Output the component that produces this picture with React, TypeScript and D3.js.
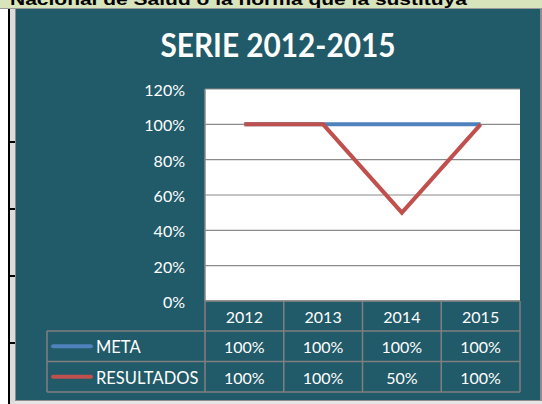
import React from "react";
import * as d3 from "d3";

const years = ["2012", "2013", "2014", "2015"];
const metaValues = [1, 1, 1, 1];
const resultadosValues = [1, 1, 0.5, 1];
const yTicks = [0, 0.2, 0.4, 0.6, 0.8, 1.0, 1.2];
const seriesNames = ["META", "RESULTADOS"];
const seriesColors = ["#4f81bd", "#c0504d"];
const title = "SERIE 2012-2015";
const bannerText = "Nacional de Salud  o la norma que la sustituya";

const W = 542;
const H = 404;
const TEAL = "#215a68";
const FONT = "Lato, 'Open Sans', sans-serif";

export default function App() {
  const plotL = 205, plotR = 520, plotT = 89, plotB = 301;
  const x = d3.scaleBand<string>().domain(years).range([plotL, plotR]);
  const y = d3.scaleLinear().domain([0, 1.2]).range([plotB, plotT]);
  const pct = d3.format(".0%");
  const line = d3
    .line<number>()
    .x((_, i) => (x(years[i]) as number) + x.bandwidth() / 2)
    .y((d) => y(d));

  const series = [metaValues, resultadosValues];
  const rowTops = [301, 331, 361.5, 392];
  const legendL = 47;

  return (
    <svg
      width={W}
      height={H}
      style={{ position: "absolute", left: 0, top: 0, display: "block" }}
    >
      <rect x={0} y={0} width={W} height={H} fill="#ffffff" />
      {/* spreadsheet banner */}
      <rect x={0} y={0} width={W} height={8} fill="#d8e4bc" />
      <rect x={0} y={8} width={W} height={1} fill="#9a9a9a" />
      <text
        x={10}
        y={5}
        fontFamily="'Liberation Sans', Arial, sans-serif"
        fontWeight="bold"
        fontSize={17}
        fill="#000"
        textLength={457}
        lengthAdjust="spacingAndGlyphs"
      >
        {bannerText}
      </text>
      {/* spreadsheet row headers */}
      <rect x={10} y={9} width={6} height={H - 9} fill="#dcdcdc" />
      <rect x={8} y={9} width={2} height={H - 9} fill="#000" />
      {[142, 209, 276, 343].map((ry) => (
        <rect key={ry} x={9} y={ry - 1} width={6} height={2} fill="#000" />
      ))}
      {/* chart frame */}
      <rect x={15} y={9} width={527} height={393} fill="#8c8c8c" />
      <rect x={16} y={9} width={524} height={391} fill={TEAL} />
      <rect x={15} y={401} width={527} height={3} fill="#e6e6e6" />

      <text
        x={278}
        y={57}
        textAnchor="middle"
        fontFamily={FONT}
        fontWeight="bold"
        fontSize={32}
        fill="#ffffff"
        textLength={235}
        lengthAdjust="spacingAndGlyphs"
      >
        {title}
      </text>

      {/* plot area */}
      <rect x={plotL} y={plotT} width={plotR - plotL} height={plotB - plotT} fill="#ffffff" />
      {yTicks.map((t) => (
        <g key={t}>
          <line x1={plotL} x2={plotR} y1={y(t)} y2={y(t)} stroke="#8a8a8a" strokeWidth={1.2} />
          <text
            x={185}
            y={y(t) + 7}
            textAnchor="end"
            fontFamily={FONT}
            fontSize={16}
            fill="#ffffff"
          >
            {pct(t)}
          </text>
        </g>
      ))}
      <line x1={plotL} x2={plotL} y1={plotT} y2={plotB} stroke="#8a8a8a" strokeWidth={1.5} />

      {series.map((s, i) => (
        <path
          key={i}
          d={line(s) as string}
          fill="none"
          stroke={seriesColors[i]}
          strokeWidth={4}
          strokeLinejoin="miter"
        />
      ))}

      {/* data table */}
      <g stroke="#808080" strokeWidth={1.5} fill="none">
        <line x1={plotL} x2={plotR} y1={rowTops[0]} y2={rowTops[0]} />
        {rowTops.slice(1).map((ry) => (
          <line key={ry} x1={legendL} x2={plotR} y1={ry} y2={ry} />
        ))}
        <line x1={legendL} x2={legendL} y1={rowTops[1]} y2={rowTops[3]} />
        {years.map((yr) => (
          <line
            key={yr}
            x1={x(yr) as number}
            x2={x(yr) as number}
            y1={rowTops[0]}
            y2={rowTops[3]}
          />
        ))}
        <line x1={plotR} x2={plotR} y1={rowTops[0]} y2={rowTops[3]} />
      </g>
      {years.map((yr) => (
        <text
          key={yr}
          x={(x(yr) as number) + x.bandwidth() / 2}
          y={323}
          textAnchor="middle"
          fontFamily={FONT}
          fontSize={16}
          fill="#ffffff"
        >
          {yr}
        </text>
      ))}
      {series.map((s, i) => {
        const base = i === 0 ? 353 : 383.5;
        const cy = (rowTops[i + 1] + rowTops[i + 2]) / 2;
        return (
          <g key={i}>
            <line
              x1={53}
              x2={91}
              y1={cy}
              y2={cy}
              stroke={seriesColors[i]}
              strokeWidth={4}
              strokeLinecap="round"
            />
            <text x={96} y={base} fontFamily={FONT} fontSize={16.5} fill="#ffffff">
              {seriesNames[i]}
            </text>
            {s.map((v, j) => (
              <text
                key={j}
                x={(x(years[j]) as number) + x.bandwidth() / 2}
                y={base}
                textAnchor="middle"
                fontFamily={FONT}
                fontSize={16}
                fill="#ffffff"
              >
                {pct(v)}
              </text>
            ))}
          </g>
        );
      })}
    </svg>
  );
}
